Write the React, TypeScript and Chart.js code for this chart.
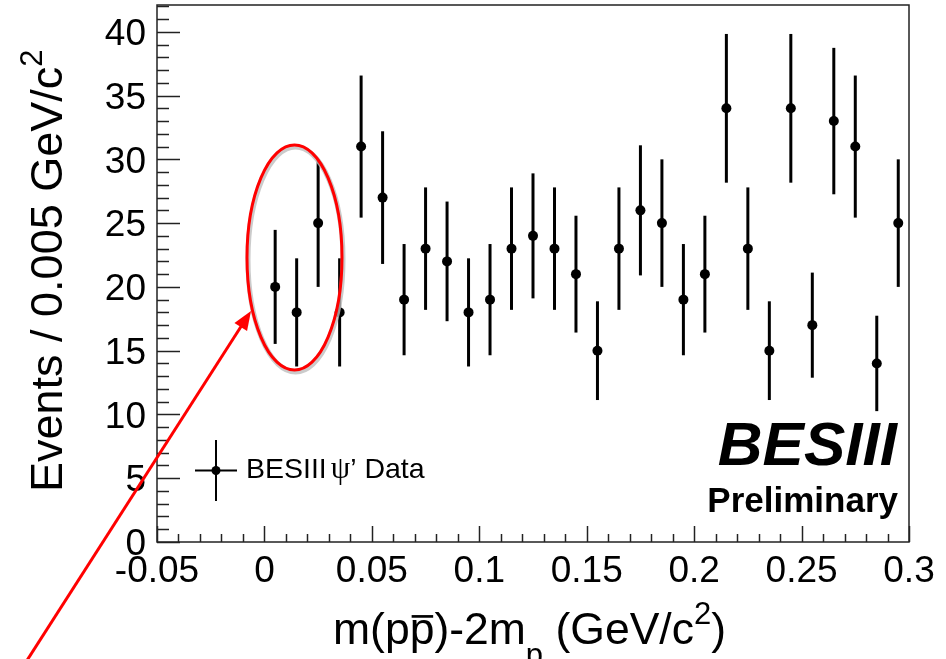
import React, { useEffect, useRef } from "react";
import { Chart, registerables } from "chart.js";

Chart.register(...registerables);

// ---- data ----
const binCenters = [
  0.005, 0.015, 0.025, 0.035, 0.045, 0.055, 0.065, 0.075, 0.085, 0.095,
  0.105, 0.115, 0.125, 0.135, 0.145, 0.155, 0.165, 0.175, 0.185, 0.195,
  0.205, 0.215, 0.225, 0.235, 0.245, 0.255, 0.265, 0.275, 0.285, 0.295,
];
const counts = [
  20, 18, 25, 18, 31, 27, 19, 23, 22, 18,
  19, 23, 24, 23, 21, 15, 23, 26, 25, 19,
  21, 34, 23, 15, 34, 17, 33, 31, 14, 25,
];
const errors = [
  4.47, 4.24, 5.0, 4.24, 5.57, 5.2, 4.36, 4.8, 4.69, 4.24,
  4.36, 4.8, 4.9, 4.8, 4.58, 3.87, 4.8, 5.1, 5.0, 4.36,
  4.58, 5.83, 4.8, 3.87, 5.83, 4.12, 5.74, 5.57, 3.74, 5.0,
];
const xTickValues = [-0.05, 0, 0.05, 0.1, 0.15, 0.2, 0.25, 0.3];
const xTickLabels = ["-0.05", "0", "0.05", "0.1", "0.15", "0.2", "0.25", "0.3"];
const yTickValues = [0, 5, 10, 15, 20, 25, 30, 35, 40];
const yTickLabels = ["0", "5", "10", "15", "20", "25", "30", "35", "40"];
const xMin = -0.05;
const xMax = 0.3;
const yMin = 0;
const yMax = 42.1;
const legendLabel = ["BESIII", "\u03C8", "\u2019 Data"];
const brandText = "BESIII";
const brandSub = "Preliminary";

const FONT = '"Liberation Sans", Arial, Helvetica, sans-serif';
const SERIF = '"Liberation Serif", "DejaVu Serif", serif';

type Part = { t: string; k?: "sup" | "sub" | "over" };

function drawParts(
  ctx: CanvasRenderingContext2D,
  parts: Part[],
  x: number,
  y: number,
  size: number,
  align: "left" | "right"
) {
  const fontFor = (p: Part) =>
    `${p.k === "sup" || p.k === "sub" ? Math.round(size * 0.7) : size}px ${FONT}`;
  const widths = parts.map((p) => {
    ctx.font = fontFor(p);
    return ctx.measureText(p.t).width;
  });
  const total = widths.reduce((a, b) => a + b, 0);
  let cx = align === "right" ? x - total : x;
  ctx.textAlign = "left";
  ctx.textBaseline = "alphabetic";
  parts.forEach((p, i) => {
    ctx.font = fontFor(p);
    let dy = 0;
    if (p.k === "sup") dy = -size * 0.45;
    if (p.k === "sub") dy = size * 0.48;
    ctx.fillText(p.t, cx, y + dy);
    if (p.k === "over") {
      ctx.save();
      ctx.lineWidth = size * 0.06;
      ctx.beginPath();
      ctx.moveTo(cx + widths[i] * 0.08, y - size * 0.62);
      ctx.lineTo(cx + widths[i] * 0.95, y - size * 0.62);
      ctx.stroke();
      ctx.restore();
    }
    cx += widths[i];
  });
}

const overlayPlugin = {
  id: "overlay",
  beforeDatasetsDraw(chart: any) {
    const { ctx, scales } = chart;
    const x = scales.x;
    const y = scales.y;
    ctx.save();
    ctx.strokeStyle = "#000";
    ctx.lineWidth = 3;
    binCenters.forEach((c, i) => {
      const px = x.getPixelForValue(c);
      ctx.beginPath();
      ctx.moveTo(px, y.getPixelForValue(counts[i] - errors[i]));
      ctx.lineTo(px, y.getPixelForValue(counts[i] + errors[i]));
      ctx.stroke();
    });
    ctx.restore();
  },
  afterDraw(chart: any) {
    const { ctx, chartArea, scales } = chart;
    const x = scales.x;
    const y = scales.y;
    const { left, right, top, bottom } = chartArea;
    ctx.save();

    // frame
    ctx.strokeStyle = "#222";
    ctx.lineWidth = 1.5;
    ctx.strokeRect(left, top, right - left, bottom - top);

    // y ticks (inside)
    for (let v = 0; v <= 42; v += 1) {
      const py = Math.round(y.getPixelForValue(v)) + 0.5;
      const len = v % 5 === 0 ? 23 : 12;
      ctx.beginPath();
      ctx.moveTo(left, py);
      ctx.lineTo(left + len, py);
      ctx.stroke();
    }
    // x ticks (inside)
    for (let i = 0; i <= 35; i++) {
      const v = xMin + i * 0.01;
      const px = Math.round(x.getPixelForValue(v)) + 0.5;
      const len = i % 5 === 0 ? 16 : 8;
      ctx.beginPath();
      ctx.moveTo(px, bottom);
      ctx.lineTo(px, bottom - len);
      ctx.stroke();
    }

    ctx.fillStyle = "#000";
    ctx.strokeStyle = "#000";

    // axis titles
    drawParts(
      ctx,
      [
        { t: "m(p" },
        { t: "p", k: "over" },
        { t: ")-2m" },
        { t: "p", k: "sub" },
        { t: " (GeV/c" },
        { t: "2", k: "sup" },
        { t: ")" },
      ],
      726,
      644,
      44.5,
      "right"
    );
    ctx.save();
    ctx.translate(62, 492);
    ctx.rotate(-Math.PI / 2);
    drawParts(
      ctx,
      [{ t: "Events / 0.005 GeV/c" }, { t: "2", k: "sup" }],
      0,
      0,
      45,
      "left"
    );
    ctx.restore();

    // legend
    ctx.lineWidth = 2;
    ctx.beginPath();
    ctx.moveTo(195, 470.5);
    ctx.lineTo(237, 470.5);
    ctx.moveTo(216, 440);
    ctx.lineTo(216, 501);
    ctx.stroke();
    ctx.beginPath();
    ctx.arc(216, 470.5, 4.5, 0, Math.PI * 2);
    ctx.fill();
    ctx.textAlign = "left";
    ctx.textBaseline = "alphabetic";
    let lx = 246;
    ctx.font = `28.5px ${FONT}`;
    ctx.fillText(legendLabel[0], lx, 478);
    lx += ctx.measureText(legendLabel[0]).width + 4;
    ctx.font = `31px ${SERIF}`;
    ctx.fillText(legendLabel[1], lx, 478);
    lx += ctx.measureText(legendLabel[1]).width;
    ctx.font = `28.5px ${FONT}`;
    ctx.fillText(legendLabel[2], lx, 478);

    // BESIII Preliminary
    ctx.textAlign = "right";
    ctx.font = `italic bold 62px ${FONT}`;
    ctx.fillText(brandText, 897, 465);
    ctx.font = `bold 35px ${FONT}`;
    ctx.fillText(brandSub, 898, 512);

    // red ellipse with shadow
    ctx.lineWidth = 5;
    ctx.strokeStyle = "rgba(190,190,190,0.8)";
    ctx.beginPath();
    ctx.ellipse(295.5, 259.5, 47.5, 112.5, 0, 0, Math.PI * 2);
    ctx.stroke();
    ctx.lineWidth = 3;
    ctx.strokeStyle = "#ff0000";
    ctx.beginPath();
    ctx.ellipse(294.5, 257.5, 47.5, 112.5, 0, 0, Math.PI * 2);
    ctx.stroke();

    // red arrow
    const tipX = 251;
    const tipY = 311;
    const sx = 17;
    const sy = 676;
    const dx = tipX - sx;
    const dy = tipY - sy;
    const L = Math.hypot(dx, dy);
    const ux = dx / L;
    const uy = dy / L;
    const hl = 19;
    const hw = 7.5;
    ctx.lineWidth = 3;
    ctx.beginPath();
    ctx.moveTo(sx, sy);
    ctx.lineTo(tipX - ux * hl * 0.8, tipY - uy * hl * 0.8);
    ctx.stroke();
    ctx.fillStyle = "#ff0000";
    ctx.beginPath();
    ctx.moveTo(tipX, tipY);
    ctx.lineTo(tipX - ux * hl - uy * hw, tipY - uy * hl + ux * hw);
    ctx.lineTo(tipX - ux * hl + uy * hw, tipY - uy * hl - ux * hw);
    ctx.closePath();
    ctx.fill();

    ctx.restore();
  },
};

export default function App() {
  const ref = useRef<HTMLCanvasElement | null>(null);
  useEffect(() => {
    if (!ref.current) return;
    const chart = new Chart(ref.current, {
      type: "scatter",
      data: {
        datasets: [
          {
            data: binCenters.map((c, i) => ({ x: c, y: counts[i] })),
            pointRadius: 5,
            pointBackgroundColor: "#000",
            pointBorderWidth: 0,
            showLine: false,
          },
        ],
      },
      options: {
        responsive: false,
        maintainAspectRatio: false,
        animation: false,
        devicePixelRatio: 1,
        layout: { padding: { left: 0, top: 5, right: 37, bottom: 0 } },
        plugins: { legend: { display: false }, tooltip: { enabled: false } },
        scales: {
          x: {
            type: "linear",
            min: xMin,
            max: xMax,
            grid: { display: false, drawTicks: false },
            border: { display: false },
            afterBuildTicks: (axis: any) => {
              axis.ticks = xTickValues.map((v) => ({ value: v }));
            },
            afterFit: (axis: any) => {
              axis.height = 117;
              axis.paddingLeft = 0;
              axis.paddingRight = 0;
            },
            ticks: {
              autoSkip: false,
              maxRotation: 0,
              minRotation: 0,
              padding: 8,
              color: "#000",
              font: { family: FONT, size: 37 },
              callback: (v: any) => xTickLabels[xTickValues.indexOf(v)],
            },
          },
          y: {
            type: "linear",
            min: yMin,
            max: yMax,
            grid: { display: false, drawTicks: false },
            border: { display: false },
            afterBuildTicks: (axis: any) => {
              axis.ticks = yTickValues.map((v) => ({ value: v }));
            },
            afterFit: (axis: any) => {
              axis.width = 157;
              axis.paddingTop = 0;
              axis.paddingBottom = 0;
            },
            ticks: {
              padding: 11,
              labelOffset: 3,
              color: "#000",
              font: { family: FONT, size: 37 },
              callback: (v: any) => yTickLabels[yTickValues.indexOf(v)],
            },
          },
        },
      },
      plugins: [overlayPlugin],
    });
    return () => chart.destroy();
  }, []);
  return (
    <div style={{ position: "fixed", left: 0, top: 0, width: 946, height: 659, background: "#fff" }}>
      <canvas ref={ref} width={946} height={659} style={{ width: 946, height: 659, display: "block" }} />
    </div>
  );
}
